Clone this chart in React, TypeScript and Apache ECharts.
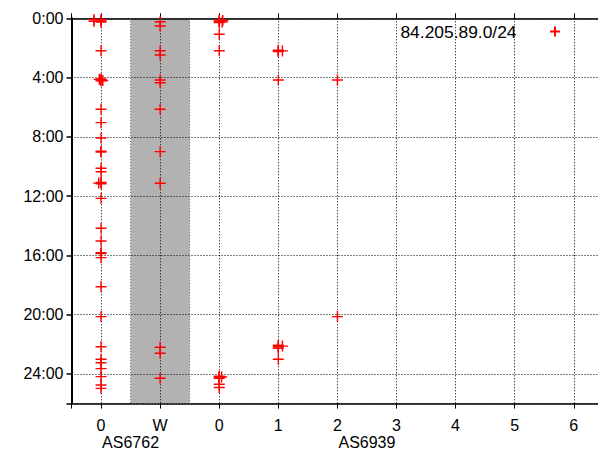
import React, { useEffect, useRef } from "react";
import * as echarts from "echarts";

// ---- data ----
const categories = ["0", "W", "0", "1", "2", "3", "4", "5", "6"];
const asnNames = ["AS6762", "AS6939"];
const asnCenters = [0.5, 4.5];
const hourTicks = [0, 4, 8, 12, 16, 20, 24];
const seriesName = "84.205.89.0/24";
const shadedRange = [0.5, 1.5];

// hours of day for each column (x position = column index)
const col0Hours = [0.1, 0.18, 0.25, 2.19, 4.1, 4.16, 4.22, 6.14, 7.04, 8.08, 8.97, 9.03, 10.12, 10.35, 11.08, 11.16, 12.15, 14.17, 15.03, 15.82, 15.88, 16.15, 18.11, 20.13, 22.16, 23.01, 23.24, 23.64, 24.18, 24.74, 24.97];
const colWHours = [0.23, 0.52, 2.19, 2.48, 4.16, 4.35, 6.14, 9.0, 11.13, 22.2, 22.6, 24.29];
const col0bHours = [0.12, 0.2, 0.28, 1.08, 2.19, 24.15, 24.22, 24.3, 24.69, 24.91];
const col1Hours = [2.16, 2.2, 2.24, 4.16, 22.06, 22.16, 22.26, 23.01];
const col2Hours = [4.16, 20.13];
// points slightly off their column
const jitterPoints: [number, number][] = [
  [-0.12, 0.08], [-0.12, 0.2], [0.03, 4.2], [-0.03, 4.12], [-0.04, 11.12],
  [2.06, 0.15], [2.05, 0.25], [2.04, 24.2],
  [3.07, 2.2], [3.07, 22.12],
];

const points: [number, number][] = [
  ...col0Hours.map((h) => [0, h] as [number, number]),
  ...colWHours.map((h) => [1, h] as [number, number]),
  ...col0bHours.map((h) => [2, h] as [number, number]),
  ...col1Hours.map((h) => [3, h] as [number, number]),
  ...col2Hours.map((h) => [4, h] as [number, number]),
  ...jitterPoints,
];

const FONT = "'Liberation Sans', Arial, Helvetica, sans-serif";
const PLUS = "path://M0,5 L10,5 M5,0 L5,10";

export default function App() {
  const ref = useRef<HTMLDivElement>(null);
  useEffect(() => {
    if (!ref.current) return;
    const chart = echarts.init(ref.current, null, { renderer: "svg" });
    const dotted = { color: "#000", width: 1, type: [1, 2] as number[] };
    chart.setOption({
      animation: false,
      backgroundColor: "#fff",
      textStyle: { fontFamily: FONT },
      grid: {
        left: 71.5,
        top: 18.3,
        width: 531.8,
        height: 385.3,
        containLabel: false,
        outerBoundsMode: "none",
      },
      legend: {
        show: true,
        right: 37,
        top: 23,
        padding: 0,
        align: "right",
        itemWidth: 11,
        itemHeight: 10,
        icon: PLUS,
        formatter: "{t|{name}}{s| }",
        textStyle: {
          rich: {
            t: { fontSize: 17.4, fontFamily: FONT, color: "#000" },
            s: { width: 28, fontSize: 16 },
          },
        },
        data: [seriesName],
      },
      xAxis: [
        {
          type: "value",
          position: "bottom",
          min: -0.5,
          max: 8.5,
          minInterval: 1,
          maxInterval: 1,
          splitNumber: 9,
          axisLine: { show: true, onZero: false, lineStyle: { color: "#000", width: 1.5 } },
          axisTick: { show: true, inside: false, length: 5, lineStyle: { color: "#000", width: 1 } },
          axisLabel: {
            show: true,
            margin: 14,
            fontSize: 16,
            lineHeight: 16,
            color: "#000",
            fontFamily: FONT,
            formatter: (v: number) =>
              Number.isInteger(v) && v >= 0 && v < categories.length ? categories[v] : "",
          },
          splitLine: { show: true, lineStyle: dotted },
        },
        {
          type: "value",
          position: "bottom",
          min: -0.5,
          max: 8.5,
          interval: 1,
          axisLine: { show: false },
          axisTick: { show: false },
          splitLine: { show: false },
          axisLabel: {
            show: true,
            margin: 30.5,
            fontSize: 16,
            lineHeight: 16,
            color: "#000",
            fontFamily: FONT,
            formatter: (v: number) => {
              const i = asnCenters.findIndex((c) => Math.abs(c - v) < 1e-6);
              return i >= 0 ? asnNames[i] : "";
            },
          },
        },
        {
          type: "value",
          position: "top",
          min: -0.5,
          max: 8.5,
          minInterval: 1,
          maxInterval: 1,
          splitNumber: 9,
          axisLine: { show: true, onZero: false, lineStyle: { color: "#000", width: 1.5 } },
          axisTick: { show: true, inside: false, length: 5, lineStyle: { color: "#000", width: 1 } },
          axisLabel: { show: false },
          splitLine: { show: false },
        },
      ],
      yAxis: [
        {
          type: "value",
          inverse: true,
          min: 0,
          max: 26,
          interval: 4,
          axisLine: { show: true, onZero: false, lineStyle: { color: "#000", width: 2 } },
          axisTick: { show: true, inside: false, length: 5, lineStyle: { color: "#000", width: 1.5 } },
          axisLabel: {
            show: true,
            margin: 8,
            fontSize: 16,
            color: "#000",
            fontFamily: FONT,
            formatter: (v: number) => (hourTicks.includes(v) ? `${v}:00` : ""),
          },
          splitLine: { show: true, lineStyle: dotted },
        },
      ],
      series: [
        {
          name: seriesName,
          type: "scatter",
          xAxisIndex: 0,
          yAxisIndex: 0,
          symbol: PLUS,
          symbolSize: 11,
          itemStyle: { color: "transparent", borderColor: "#ff0000", borderWidth: 1.4, opacity: 1 },
          data: points,
          markArea: {
            silent: true,
            itemStyle: {
              color: "rgba(0,0,0,0.3)",
              borderColor: "#666",
              borderWidth: 1,
              borderType: [1, 2],
            },
            data: [[{ xAxis: shadedRange[0] }, { xAxis: shadedRange[1] }]],
          },
        },
      ],
    });
    return () => chart.dispose();
  }, []);
  return (
    <div
      ref={ref}
      style={{ position: "absolute", left: 0, top: 0, width: 598, height: 452, background: "#fff" }}
    />
  );
}
